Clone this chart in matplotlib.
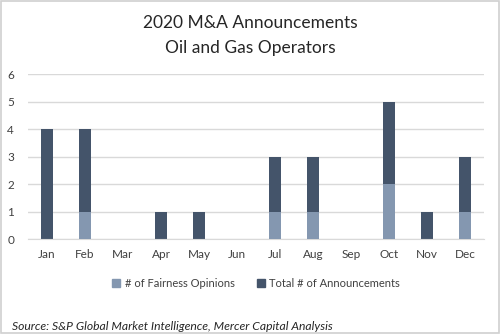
import matplotlib
matplotlib.use("Agg")
import matplotlib.pyplot as plt
from matplotlib.patches import Rectangle
from matplotlib.lines import Line2D

months = ["Jan", "Feb", "Mar", "Apr", "May", "Jun", "Jul", "Aug", "Sep", "Oct", "Nov", "Dec"]
fairness = [0, 1, 0, 0, 0, 0, 1, 1, 0, 2, 0, 1]
total = [4, 4, 0, 1, 1, 0, 3, 3, 0, 5, 1, 3]

dark = "#44546A"
light = "#8497B0"
plt.rcParams["font.family"] = ["Lato", "DejaVu Sans"]

fig = plt.figure(figsize=(5, 3.34), dpi=100)
ax = fig.add_axes([0.056, 0.2844, 0.912, 0.494])
x = range(len(months))
ax.bar(x, total, width=0.31, color=dark, zorder=2, label="Total # of Announcements")
ax.bar(x, fairness, width=0.31, color=light, zorder=3, label="# of Fairness Opinions")
ax.set_xlim(-0.5, 11.5)
ax.set_ylim(0, 6)
ax.set_yticks(range(0, 7))
ax.set_xticks(list(x))
ax.set_xticklabels(months)
ax.yaxis.grid(True, color="#D9D9D9", linewidth=1, zorder=0)
for s in ax.spines.values():
    s.set_visible(False)
ax.spines["bottom"].set_visible(True)
ax.spines["bottom"].set_color("#D9D9D9")
ax.tick_params(length=0, labelsize=8.5, colors="#404040")
ax.tick_params(axis="x", pad=7)
ax.tick_params(axis="y", pad=10)

fig.text(0.5, 0.93, "2020 M&A Announcements", ha="center", va="center", fontsize=12.5, color="#262626")
fig.text(0.5, 0.855, "Oil and Gas Operators", ha="center", va="center", fontsize=12.5, color="#262626")

handles = [Line2D([], [], marker="s", linestyle="none", color=light, markersize=5.5),
           Line2D([], [], marker="s", linestyle="none", color=dark, markersize=5.5)]
fig.legend(handles, ["# of Fairness Opinions", "Total # of Announcements"],
           loc="center", bbox_to_anchor=(0.508, 0.152), ncol=2, frameon=False,
           fontsize=8, handletextpad=0.0, columnspacing=1.6, handlelength=1.5,
           labelcolor="#404040")

fig.text(0.024, 0.022, "Source: S&P Global Market Intelligence, Mercer Capital Analysis",
         ha="left", va="center", fontsize=8.7, style="italic", color="#262626")

fig.patches.append(Rectangle((0.002, 0.003), 0.996, 0.994, transform=fig.transFigure,
                             fill=False, edgecolor="#D0D0D0", linewidth=1.2))
fig.savefig("out.png", dpi=100)
